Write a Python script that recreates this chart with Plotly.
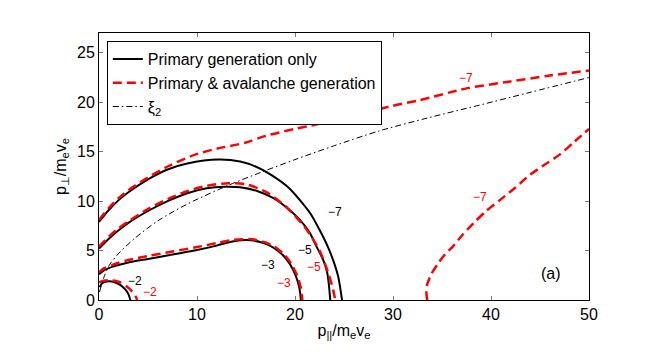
import plotly.graph_objects as go

# contour level curves (p_par, p_perp)
prim_m2_x = [0.05, 0.4, 1.0, 1.6, 2.2, 2.7, 3.0, 3.2]
prim_m2_y = [1.3, 1.75, 1.9, 1.8, 1.5, 1.05, 0.6, 0.0]
aval_m2_x = [0.0, 0.5, 1.2, 2.0, 2.8, 3.4, 3.75, 3.9]
aval_m2_y = [1.8, 1.95, 2.0, 1.85, 1.4, 0.85, 0.35, 0.0]

prim_m3_x = [0.0, 0.5, 1.5, 3.0, 5.0, 7.5, 10.0, 12.0, 13.5, 14.5, 15.5, 16.8, 17.8, 18.8, 19.5, 20.1, 20.45, 20.6]
prim_m3_y = [2.6, 3.0, 3.4, 3.8, 4.15, 4.6, 5.05, 5.5, 5.9, 6.05, 6.05, 5.75, 5.3, 4.5, 3.6, 2.4, 1.2, 0.0]
aval_m3_x = [0.0, 0.5, 1.5, 3.0, 5.0, 7.5, 10.0, 12.0, 13.5, 14.6, 15.6, 16.9, 17.9, 18.9, 19.6, 20.2, 20.6, 20.75]
aval_m3_y = [2.8, 3.2, 3.6, 4.05, 4.45, 4.9, 5.35, 5.75, 6.05, 6.15, 6.15, 5.85, 5.4, 4.6, 3.7, 2.5, 1.2, 0.0]

prim_m5_x = [0.0, 1.0, 2.0, 3.0, 5.0, 7.0, 9.0, 11.0, 12.8, 14.4, 16.2, 17.8, 19.2, 20.5, 21.5, 22.2, 22.9, 23.3, 23.6]
prim_m5_y = [5.2, 6.2, 7.05, 7.8, 9.0, 10.0, 10.8, 11.3, 11.45, 11.4, 11.0, 10.3, 9.3, 8.1, 6.8, 5.4, 4.0, 2.7, 0.0]
aval_m5_x = [0.0, 1.0, 2.0, 3.0, 5.0, 7.0, 9.0, 11.0, 13.2, 15.0, 17.0, 19.0, 20.9, 21.8, 22.6, 23.4, 23.9, 24.1]
aval_m5_y = [5.4, 6.4, 7.25, 7.95, 9.2, 10.2, 11.0, 11.55, 11.8, 11.7, 10.95, 9.5, 7.5, 6.2, 4.8, 2.7, 1.0, 0.0]

prim_m7_x = [0.0, 1.0, 2.0, 3.0, 5.0, 7.0, 9.0, 12.2, 14.4, 16.2, 17.8, 19.3, 20.5, 21.6, 22.5, 23.3, 23.9, 24.4, 24.6, 24.8]
prim_m7_y = [7.9, 9.1, 10.1, 10.9, 12.2, 13.2, 13.8, 14.2, 14.0, 13.4, 12.5, 11.4, 10.1, 8.7, 7.1, 5.5, 4.0, 2.4, 1.3, 0.0]
aval_m7_x = [0.0, 1.0, 2.0, 3.0, 5.0, 7.0, 9.8, 12.0, 14.9, 17.0, 20.0, 25.2, 29.8, 32.7, 37.5, 42.0, 46.0, 50.0]
aval_m7_y = [8.1, 9.3, 10.3, 11.1, 12.4, 13.5, 14.7, 15.3, 15.9, 16.6, 17.3, 18.4, 19.6, 20.2, 21.4, 22.1, 22.7, 23.2]
aval_m7b_x = [33.5, 33.4, 33.5, 33.9, 34.6, 35.3, 36.1, 37.1, 38.2, 39.5, 40.9, 42.4, 43.9, 45.5, 47.0, 48.5, 50.0]
aval_m7b_y = [0.0, 0.8, 1.6, 2.6, 3.7, 4.6, 5.4, 6.6, 7.75, 9.0, 10.1, 11.3, 12.6, 13.7, 14.7, 16.0, 17.3]

xi2_x = [0.05, 0.5, 1.1, 2.0, 3.6, 6.0, 9.0, 13.2, 16.5, 20.0, 24.0, 28.6, 33.5, 38.8, 44.0, 50.0]
xi2_y = [0.8, 2.3, 3.6, 4.7, 6.2, 8.0, 9.7, 11.6, 12.9, 14.2, 15.6, 17.1, 18.4, 19.7, 21.0, 22.5]

# contour labels: (text, colour, x, y)
labels = [
    ("−2", "black", 3.7, 1.9), ("−2", "red", 5.2, 0.85),
    ("−3", "black", 17.2, 3.55), ("−3", "red", 18.85, 1.75),
    ("−5", "black", 21.0, 5.1), ("−5", "red", 21.9, 3.3),
    ("−7", "black", 24.05, 8.9), ("−7", "red", 37.4, 22.4),
    ("−7", "red", 38.9, 10.45),
]

FONT = "Liberation Sans, Arial, sans-serif"
RED_DASH = "9px,5px"

fig = go.Figure()

black = [(prim_m2_x, prim_m2_y), (prim_m3_x, prim_m3_y), (prim_m5_x, prim_m5_y), (prim_m7_x, prim_m7_y)]
red = [(aval_m2_x, aval_m2_y), (aval_m3_x, aval_m3_y), (aval_m5_x, aval_m5_y),
       (aval_m7_x, aval_m7_y), (aval_m7b_x, aval_m7b_y)]

for i, (x, y) in enumerate(black):
    fig.add_trace(go.Scatter(
        x=x, y=y, mode="lines", name="Primary generation only", legendgroup="prim",
        showlegend=(i == 0), legendrank=1,
        line=dict(color="black", width=2, shape="spline", smoothing=0.8),
    ))

for i, (x, y) in enumerate(red):
    fig.add_trace(go.Scatter(
        x=x, y=y, mode="lines", name="Primary & avalanche generation", legendgroup="aval",
        showlegend=(i == 0), legendrank=2,
        line=dict(color="red", width=2.5, dash=RED_DASH, shape="spline", smoothing=0.8),
    ))

fig.add_trace(go.Scatter(
    x=xi2_x, y=xi2_y, mode="lines", name="ξ<sub>2</sub>", legendrank=3,
    line=dict(color="black", width=1, dash="6px,3px,1.5px,3px", shape="spline", smoothing=0.8),
))

for text, col, x, y in labels:
    fig.add_annotation(x=x, y=y, text=text, showarrow=False,
                       font=dict(size=12, color=col, family=FONT))

fig.add_annotation(x=46.1, y=2.7, text="(a)", showarrow=False,
                   font=dict(size=16, color="black", family=FONT))

axis_style = dict(
    showline=True, linecolor="black", linewidth=1, mirror="ticks",
    ticks="inside", ticklen=4, tickcolor="#777", tickwidth=1,
    showgrid=False, zeroline=False, automargin=False,
    tickfont=dict(size=16, color="black", family=FONT),
)

fig.update_xaxes(range=[0, 50], tickvals=[0, 10, 20, 30, 40, 50],
                 title=dict(text="p<sub>||</sub>/m<sub>e</sub>v<sub>e</sub>", standoff=2,
                            font=dict(size=16, family=FONT)),
                 **axis_style)
fig.update_yaxes(range=[0, 27], tickvals=[0, 5, 10, 15, 20, 25],
                 title=dict(text="p<sub>⊥</sub>/m<sub>e</sub>v<sub>e</sub>", standoff=6,
                            font=dict(size=16, family=FONT)),
                 **axis_style)

# page body adds 8px, so the figure is a bit smaller than the window
fig.update_layout(
    width=656, height=346,
    margin=dict(l=91, r=75, t=25, b=54, autoexpand=False),
    paper_bgcolor="white", plot_bgcolor="white",
    font=dict(family=FONT, color="black"),
    legend=dict(
        x=0.016, y=0.97, xanchor="left", yanchor="top",
        bgcolor="white", bordercolor="black", borderwidth=1,
        font=dict(size=16, family=FONT), tracegroupgap=0,
        itemwidth=30,
    ),
)

fig.write_html("out.html")
